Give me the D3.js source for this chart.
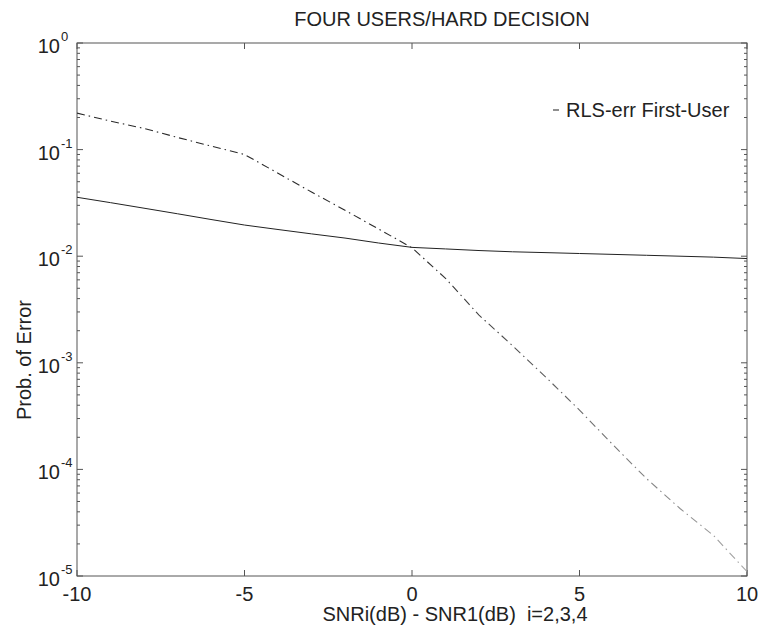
<!DOCTYPE html>
<html>
<head>
<meta charset="utf-8">
<script src="https://cdn.jsdelivr.net/npm/d3@7/dist/d3.min.js"></script>
<style>
  html, body { margin: 0; padding: 0; background: #fff; }
  svg { display: block; font-family: "Liberation Sans", Arial, Helvetica, sans-serif; }
</style>
</head>
<body>
<svg id="chart" width="761" height="631"></svg>
<script>
// SNR difference (dB) on the x axis
const snrDiff = [-10, -9, -8, -7, -6, -5, -4, -3, -2, -1, 0, 1, 2, 3, 4, 5, 6, 7, 8, 9, 10];
// Probability of error, first user (solid curve)
const solidErr = [0.0357, 0.0318, 0.0282, 0.0250, 0.0221, 0.0196, 0.0178, 0.0162, 0.0148, 0.0133,
                  0.0121, 0.0117, 0.0113, 0.0110, 0.0108, 0.0106, 0.0104, 0.0102, 0.0100, 0.0098, 0.0095];
// Probability of error, RLS-err First-User (dash-dot curve)
const rlsErr = [0.22, 0.185, 0.158, 0.13, 0.108, 0.090, 0.060, 0.040, 0.027, 0.018,
                0.0120, 0.0062, 0.0028, 0.00145, 0.00073, 0.00036, 0.00017, 0.000082, 0.000043, 0.000024, 0.000011];
const xTickValues = [-10, -5, 0, 5, 10];
const yExponents = [0, -1, -2, -3, -4, -5];

const titleText = "FOUR USERS/HARD DECISION";
const xLabelText = "SNRi(dB) - SNR1(dB)  i=2,3,4";
const yLabelText = "Prob. of Error";
const legendText = "RLS-err First-User";

const svg = d3.select("#chart");
const plot = { left: 77, top: 43, right: 747, bottom: 576 };
const fontSize = 20;

const x = d3.scaleLinear().domain([-10, 10]).range([plot.left, plot.right]);
const y = d3.scaleLog().domain([1e-5, 1]).range([plot.bottom, plot.top]);

const ink = "#222";
const axisInk = "#555";

const defs = svg.append("defs");
// clip curves to the axes box
defs.append("clipPath").attr("id", "plotClip")
  .append("rect")
  .attr("x", plot.left).attr("y", plot.top)
  .attr("width", plot.right - plot.left).attr("height", plot.bottom - plot.top);

// dash-dot curve fades towards the high-SNR end
const grad = defs.append("linearGradient")
  .attr("id", "rlsFade").attr("gradientUnits", "userSpaceOnUse")
  .attr("x1", x(0)).attr("x2", x(10)).attr("y1", 0).attr("y2", 0);
grad.append("stop").attr("offset", 0).attr("stop-color", "#2a2a2a");
grad.append("stop").attr("offset", 1).attr("stop-color", "#a8a8a8");

// frame
svg.append("rect")
  .attr("x", plot.left).attr("y", plot.top)
  .attr("width", plot.right - plot.left).attr("height", plot.bottom - plot.top)
  .attr("fill", "none").attr("stroke", axisInk).attr("stroke-width", 1);

// minor log ticks on both vertical edges
const minor = [];
for (let e = -5; e < 0; e++) {
  for (let m = 2; m <= 9; m++) minor.push(m * Math.pow(10, e));
}
const tickG = svg.append("g").attr("stroke", axisInk).attr("stroke-width", 1);
minor.forEach(v => {
  tickG.append("line").attr("x1", plot.left).attr("x2", plot.left + 3).attr("y1", y(v)).attr("y2", y(v));
  tickG.append("line").attr("x1", plot.right).attr("x2", plot.right - 3).attr("y1", y(v)).attr("y2", y(v));
});
yExponents.forEach(e => {
  const v = Math.pow(10, e);
  tickG.append("line").attr("x1", plot.left).attr("x2", plot.left + 6).attr("y1", y(v)).attr("y2", y(v));
  tickG.append("line").attr("x1", plot.right).attr("x2", plot.right - 6).attr("y1", y(v)).attr("y2", y(v));
});
xTickValues.forEach(t => {
  tickG.append("line").attr("x1", x(t)).attr("x2", x(t)).attr("y1", plot.bottom).attr("y2", plot.bottom - 6);
  tickG.append("line").attr("x1", x(t)).attr("x2", x(t)).attr("y1", plot.top).attr("y2", plot.top + 6);
});

// y tick labels: 10 with superscript exponent
const yLab = svg.append("g").attr("fill", ink);
yExponents.forEach(e => {
  const v = Math.pow(10, e);
  yLab.append("text")
    .attr("x", 60).attr("y", y(v) + 10)
    .attr("text-anchor", "end")
    .attr("font-size", fontSize)
    .text("10");
  yLab.append("text")
    .attr("x", 61).attr("y", y(v) - 2)
    .attr("font-size", 13)
    .text(e === 0 ? "0" : "-" + Math.abs(e));
});

// x tick labels
xTickValues.forEach(t => {
  svg.append("text")
    .attr("x", x(t)).attr("y", plot.bottom + 25)
    .attr("text-anchor", "middle")
    .attr("font-size", fontSize)
    .attr("fill", ink)
    .text(t);
});

// titles
svg.append("text")
  .attr("x", 442).attr("y", 26)
  .attr("text-anchor", "middle")
  .attr("font-size", fontSize)
  .attr("fill", ink)
  .text(titleText);

svg.append("text")
  .attr("x", 455).attr("y", 621)
  .attr("text-anchor", "middle")
  .attr("font-size", fontSize)
  .attr("fill", ink)
  .style("white-space", "pre")
  .text(xLabelText);

svg.append("text")
  .attr("transform", "translate(31, 360) rotate(-90)")
  .attr("text-anchor", "middle")
  .attr("font-size", fontSize)
  .attr("fill", ink)
  .text(yLabelText);

// curves
const line = d3.line().x(d => x(d[0])).y(d => y(d[1]));
const curves = svg.append("g").attr("clip-path", "url(#plotClip)");

curves.append("path")
  .datum(snrDiff.map((s, i) => [s, solidErr[i]]))
  .attr("d", line)
  .attr("fill", "none").attr("stroke", ink).attr("stroke-width", 1);

curves.append("path")
  .datum(snrDiff.map((s, i) => [s, rlsErr[i]]))
  .attr("d", line)
  .attr("fill", "none").attr("stroke", "url(#rlsFade)").attr("stroke-width", 1.1)
  .attr("stroke-dasharray", "8,4,1.5,4");

// legend
svg.append("line")
  .attr("x1", 553).attr("x2", 559).attr("y1", 110).attr("y2", 110)
  .attr("stroke", "#333").attr("stroke-width", 1.1);
svg.append("text")
  .attr("x", 566).attr("y", 117)
  .attr("font-size", fontSize)
  .attr("fill", ink)
  .text(legendText);
</script>
</body>
</html>
